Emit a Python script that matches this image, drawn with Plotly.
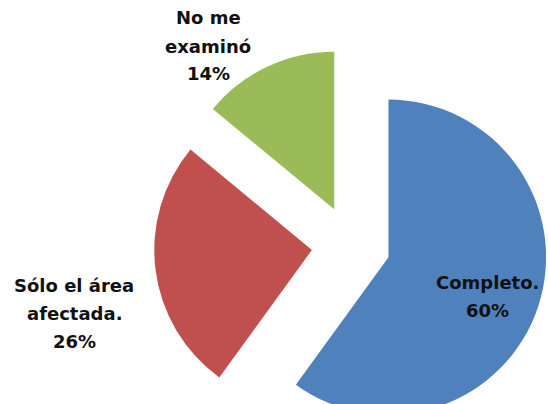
import plotly.graph_objects as go

# ---- data ----
labels = ["Completo.", "Sólo el área afectada.", "No me examinó"]
values = [60, 26, 14]
colors = ["#4F81BD", "#C0504D", "#9BBB59"]
# label text broken into lines as shown in the chart
label_lines = [["Completo."], ["Sólo el área", "afectada."], ["No me", "examinó"]]

# ---- layout geometry ----
W, H = 548, 442
ML, MR, MT, MB = 154, 0, 48, 0
PW, PH = W - ML - MR, H - MT - MB

def px_to_paper(x, y):
    return (x - ML) / PW, 1 - (y - MT) / PH

# label anchor (centre of first line) in pixels and line spacing
label_pos = [(487, 282), (74, 285), (208, 18)]
line_gap = 28

total = sum(values)
annotations = []
for lines, v, (lx, ly) in zip(label_lines, values, label_pos):
    pct = f"{round(100 * v / total)}%"
    for i, t in enumerate(lines + [pct]):
        xp, yp = px_to_paper(lx, ly + i * line_gap)
        annotations.append(dict(
            x=xp, y=yp, xref="paper", yref="paper", text=t, showarrow=False,
            xanchor="center", yanchor="middle",
            font=dict(family="DejaVu Sans", size=18, color="#111111", weight="bold"),
        ))

fig = go.Figure(go.Pie(
    labels=labels, values=values, sort=False, direction="clockwise", rotation=0,
    marker=dict(colors=colors, line=dict(width=0)),
    pull=[0.25, 0.25, 0.25], textinfo="none", hoverinfo="label+percent",
    showlegend=False,
))
fig.update_layout(
    width=W, height=H, margin=dict(l=ML, r=MR, t=MT, b=MB),
    paper_bgcolor="white", plot_bgcolor="white",
    annotations=annotations,
)
fig.write_html(
    "out.html",
    post_script="document.body.style.overflow='hidden';document.documentElement.style.overflow='hidden';",
)
